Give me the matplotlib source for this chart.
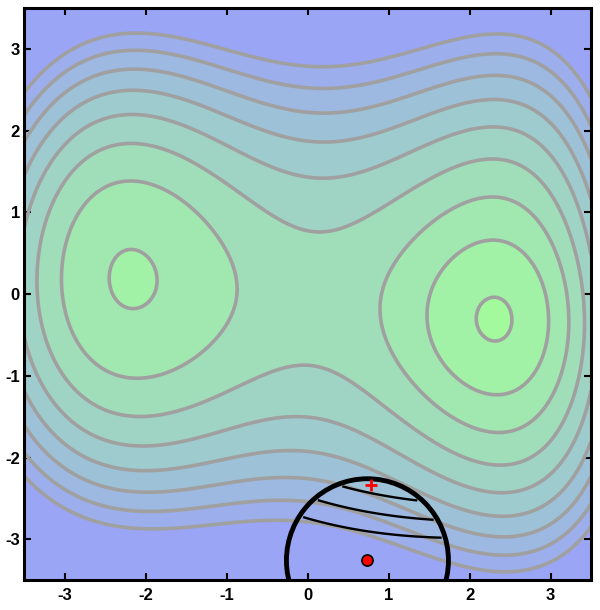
import matplotlib
matplotlib.use('Agg')
import matplotlib.pyplot as plt
import numpy as np
from matplotlib.patches import Circle
from matplotlib.colors import to_rgb

plt.rcParams['axes.unicode_minus'] = False
plt.rcParams['font.family'] = ['Liberation Sans', 'DejaVu Sans']

# points on the grey contour lines (x, y, level index)
right_x = [2.31, 2.07, 2.54, 2.31, 2.31, 2.14, 2.48, 2.14, 2.48,
           2.30, 1.45, 2.93, 2.30, 1.65, 2.77, 1.74, 2.85,
           0.69, 0.85, 1.30, 2.30, 3.18, 2.94, 2.30, 1.20, 3.37, 3.14, 3.46, 3.35]
right_y = [-0.33, -0.33, -0.33, -0.04, -0.61, -0.13, -0.13, -0.53, -0.53,
           0.75, -0.18, -0.18, -1.10, 0.43, 0.47, -0.95, -0.80,
           -0.06, 0.45, 0.95, 1.20, -0.35, 1.00, -1.70, -0.95, -0.35, 1.16, -0.35, 1.16]
right_k = [0.7, 1, 1, 1, 1, 1, 1, 1, 1,
           2, 2, 2, 2, 2, 2, 2, 2,
           3, 3, 3, 3, 3, 3, 3, 3, 4, 4, 5, 5]

left_x = [-2.18, -2.52, -1.84, -2.18, -2.18, -2.42, -1.94, -2.42, -1.94,
          -3.01, -0.81, -2.99, -1.14, -2.79, -1.35, -1.96, -1.96, -3.20, -3.40]
left_y = [0.28, 0.28, 0.28, 0.64, -0.09, 0.53, 0.53, 0.03, 0.03,
          0.31, 0.18, 0.80, 0.80, -0.67, -0.67, 1.22, -1.16, 0.00, 0.00]
left_k = [1.55, 2, 2, 2, 2, 2, 2, 2, 2,
          3, 3, 3, 3, 3, 3, 3, 3, 4, 5]

top_x = [-2.58, -2.58, -2.58, -2.58, -2.58, -2.58, -3.5, -3.5, -3.5, -3.5, -3.0, -2.0, -1.0,
         0, 0, 0, 0, 0, 0, 1.2, 2.0, 2.6, 2.6, 2.6, 3.43, 3.43]
top_y = [1.62, 1.94, 2.26, 2.63, 2.90, 3.22, 2.35, 2.15, 1.95, 1.70, 2.90, 3.22, 3.05,
         0.70, 1.41, 1.87, 2.24, 2.56, 2.84, 2.78, 3.10, 3.22, 2.90, 2.60, 2.47, 2.26]
top_k = [4, 5, 6, 7, 8, 9, 9, 8, 7, 6, 9, 9, 9,
         4, 5, 6, 7, 8, 9, 9, 9, 9, 8, 7, 9, 8]

bottom_x = [-2.0, -2.0, -2.0, -2.0, -2.0, -2.0, -3.5, -3.5, -3.5, -3.5,
            0, 0, 0, -0.48, -0.48, -0.48, 2.6, 2.6, 2.6, 2.6, 2.36, 3.43, 3.43, 3.43, 3.43]
bottom_y = [-1.53, -1.84, -2.14, -2.39, -2.63, -2.88, -1.45, -1.70, -1.90, -2.10,
            -0.82, -1.43, -1.90, -2.20, -2.55, -2.84, -2.57, -2.88, -3.15, -3.39, -3.43,
            -2.26, -2.45, -2.66, -2.90]
bottom_k = [4, 5, 6, 7, 8, 9, 6, 7, 8, 9,
            4, 5, 6, 7, 8, 9, 6, 7, 8, 9, 9, 6, 7, 8, 9]

# bottoms of the two wells
well_x = [2.31, -2.18]
well_y = [-0.33, 0.28]

levels = [1, 2, 3, 4, 5, 6, 7, 8, 9]

# trust region, its centre, the step, and the local quadratic model drawn inside it
centre = (0.74, -3.26)
radius = 1.0
step_end = (0.79, -2.34)
model_value = 10.5
model_grad = (-0.44, -4.2)
model_hess = ((0.5, -0.53), (-0.53, 0.0))
model_levels = [7, 8, 9]

low_colour = '#a2fa9c'
high_colour = '#9ba5f5'


def bump(x, y, x0, y0, s):
    return np.exp(-((x - x0) ** 2 + (y - y0) ** 2) / (2 * s * s))


def basis(x, y):
    u = x / 3.5
    v = y / 3.5
    cols = [np.ones_like(u), u, v, u * u, u * v, v * v, u ** 3, u * u * v, u * v * v, v ** 3,
            u ** 4, u * u * v * v, v ** 4, u ** 3 * v, u * v ** 3, u ** 5, u ** 4 * v, u ** 6,
            bump(x, y, 2.31, -0.33, 0.7), bump(x, y, -2.18, 0.28, 0.8)]
    return np.stack(cols, axis=-1)


px = np.array(right_x + left_x + top_x + bottom_x)
py = np.array(right_y + left_y + top_y + bottom_y)
pk = np.array(right_k + left_k + top_k + bottom_k, dtype=float)
# the left teardrop and the saddle crossings count more in the fit
wt = np.ones_like(pk)
n0 = len(right_x)
wt[n0 + 9:n0 + 17] = 3.0
wt[(px == 0) & (np.abs(py) < 1)] = 3.0

wx = np.array(well_x)
wy = np.array(well_y)
h = 1e-3
rows = [basis(px, py) * wt[:, None],
        5 * (basis(wx + h, wy) - basis(wx - h, wy)) / (2 * h),
        5 * (basis(wx, wy + h) - basis(wx, wy - h)) / (2 * h)]
target = np.concatenate([pk * wt, np.zeros(4)])
coef = np.linalg.lstsq(np.vstack(rows), target, rcond=None)[0]

xs = np.linspace(-3.5, 3.5, 401)
X, Y = np.meshgrid(xs, xs)
Z = basis(X, Y) @ coef

lo = np.array(to_rgb(low_colour))
hi = np.array(to_rgb(high_colour))
band_colours = [lo + (hi - lo) * i / 9 for i in range(10)]
bands = [Z.min() - 1] + levels + [Z.max() + 1]

fig = plt.figure(figsize=(6, 6.1), dpi=100)
ax = fig.add_axes([0.04, 0.049, 0.945, 0.938])
ax.contourf(X, Y, Z, levels=bands, colors=band_colours)
ax.contour(X, Y, Z, levels=levels, colors='#a0a0a0', linewidths=2.6)

# quadratic model inside the trust region
cx0, cy0 = centre
mx = np.linspace(cx0 - radius, cx0 + radius, 241)
MX, MY = np.meshgrid(mx, mx - cx0 + cy0)
dx = MX - cx0
dy = MY - cy0
(bxx, bxy), (_, byy) = model_hess
M = (model_value + model_grad[0] * dx + model_grad[1] * dy
     + 0.5 * (bxx * dx * dx + 2 * bxy * dx * dy + byy * dy * dy))
M = np.ma.masked_where(dx ** 2 + dy ** 2 > (0.96 * radius) ** 2, M)
ax.contour(MX, MY, M, levels=model_levels, colors='black', linewidths=1.7)

ax.add_patch(Circle(centre, radius, fill=False, lw=3.5, ec='black', zorder=5))
ax.plot(*centre, 'o', ms=8, mfc='red', mec='black', mew=1.2, zorder=6)
ax.plot(*step_end, '+', ms=9, color='red', mew=2, zorder=6)

ax.set_xlim(-3.5, 3.5)
ax.set_ylim(-3.5, 3.5)
ax.set_xticks(range(-3, 4))
ax.set_yticks(range(-3, 4))
ax.tick_params(direction='in', top=True, right=True, length=5, width=1.5,
               labelsize=12, pad=3)
ax.tick_params(axis='x', pad=6)
for lab in ax.get_xticklabels() + ax.get_yticklabels():
    lab.set_fontweight('bold')
for sp in ax.spines.values():
    sp.set_linewidth(2.2)

fig.savefig('out.png', dpi=100)
